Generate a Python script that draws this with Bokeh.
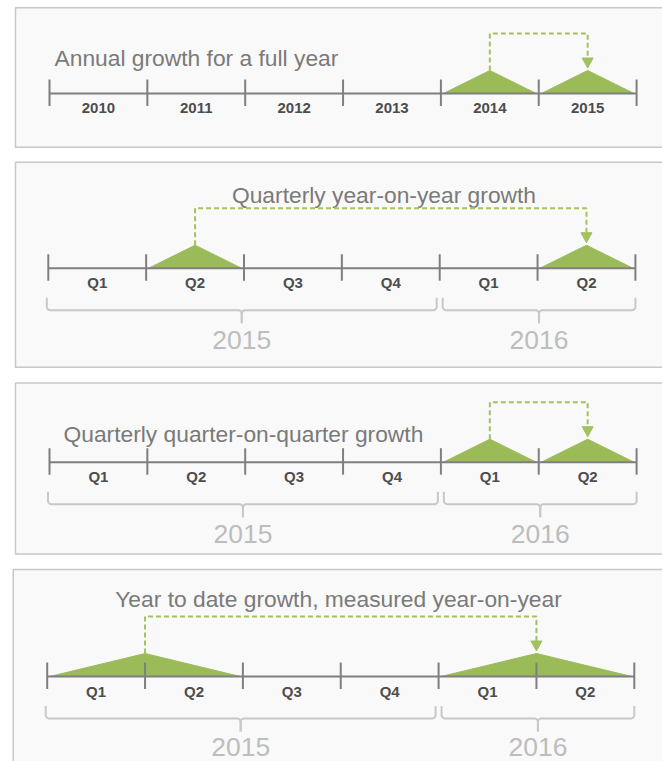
import numpy as np
from bokeh.plotting import figure
from bokeh.models import Range1d
from bokeh.embed import file_html
from bokeh.resources import INLINE
from bokeh.core.properties import value

# ---------------- data ----------------
titles = [
    "Annual growth for a full year",
    "Quarterly year-on-year growth",
    "Quarterly quarter-on-quarter growth",
    "Year to date growth, measured year-on-year",
]
annual_labels = ["2010", "2011", "2012", "2013", "2014", "2015"]
quarter_labels = ["Q1", "Q2", "Q3", "Q4", "Q1", "Q2"]
group_years = ["2015", "2016"]
group_start = [0, 4]          # first period index of each year
group_end = [4, 6]            # end period index of each year
# highlighted spans per panel: [base period span, compared period span]
hl_start = [[4, 5], [1, 5], [4, 5], [0, 4]]
hl_end = [[5, 6], [2, 6], [5, 6], [2, 6]]
panel_period_labels = [annual_labels, quarter_labels, quarter_labels, quarter_labels]
panel_has_groups = [False, True, True, True]

# ---------------- layout / style ----------------
W, H = 662, 761
STEP = 97.85
GREEN = "#9bbb59"
DASH_C = "#a2c260"
AXIS_C = "#7f7f7f"
BRACKET_C = "#c8c8c8"
FONT = "Liberation Sans"

panels = [
    dict(left=15, top=7.3, bottom=146.7, axis=93.0, x0=49.0, tx=54, ty=57, talign="left", yl=72),
    dict(left=15, top=161.7, bottom=366.7, axis=267.7, x0=47.8, tx=383.5, ty=194, talign="center", yl=72),
    dict(left=15, top=382.5, bottom=553.5, axis=461.7, x0=49.0, tx=63, ty=433.5, talign="left", yl=72),
    dict(left=12.7, top=569, bottom=790, axis=676.0, x0=46.7, tx=338, ty=598.5, talign="center", yl=70),
]

p = figure(width=W, height=H, output_backend="svg", toolbar_location=None,
           x_range=Range1d(0, W), y_range=Range1d(H, 0),
           x_axis_location=None, y_axis_location=None, min_border=0,
           background_fill_color="white", border_fill_color="white")
p.grid.visible = False
p.outline_line_color = None


def arc(cx, cy, r, a0, a1, n=8):
    t = np.linspace(a0, a1, n)
    return list(cx + r * np.cos(t)), list(cy + r * np.sin(t))


for k, pn in enumerate(panels):
    ax = pn["axis"]
    xs_t = [pn["x0"] + i * STEP for i in range(len(panel_period_labels[k]) + 1)]
    X = lambda u: pn["x0"] + u * STEP

    # panel box
    p.quad(left=pn["left"], right=W + 20, top=pn["top"], bottom=pn["bottom"],
           fill_color="#f9f9f9", line_color="#c8c8c8", line_width=1.5)

    # title
    p.text(x=[pn["tx"]], y=[pn["ty"]], text=[titles[k]], text_font=value(FONT),
           text_font_size="22.8px", text_color="#7a7a7a", text_align=pn["talign"],
           text_baseline="alphabetic")

    # highlighted triangles
    tri_x, tri_y, peaks = [], [], []
    for s, e in zip(hl_start[k], hl_end[k]):
        xl, xr = X(s) + 2.5, X(e) - 2.5
        xm = X((s + e) / 2)
        tri_x.append([xl, xm, xr])
        tri_y.append([ax, ax - 23, ax])
        peaks.append(xm)
    p.patches(tri_x, tri_y, fill_color=GREEN, line_color=GREEN, line_width=1)

    # dashed connector and arrow head
    top_y = ax - 60
    tip_y = ax - 25.5
    head_h = 10
    p.line([peaks[0], peaks[0], peaks[1], peaks[1]],
           [ax - 23, top_y, top_y, tip_y - head_h + 1],
           line_color=DASH_C, line_width=2, line_dash="5 3")
    p.patch([peaks[1] - 5.5, peaks[1] + 5.5, peaks[1]],
            [tip_y - head_h, tip_y - head_h, tip_y],
            fill_color=DASH_C, line_color=DASH_C, line_width=1)

    # timeline axis and ticks
    p.line([xs_t[0], xs_t[-1]], [ax, ax], line_color=AXIS_C, line_width=2)
    p.segment(x0=xs_t, y0=[ax - 14] * len(xs_t), x1=xs_t, y1=[ax + 12.5] * len(xs_t),
              line_color=AXIS_C, line_width=2)

    # period labels
    labs = panel_period_labels[k]
    p.text(x=[X(i + 0.5) for i in range(len(labs))], y=[ax + 14.5] * len(labs), text=labs,
           text_font=value(FONT), text_font_size="15px", text_font_style="bold",
           text_color="#4d4d4d", text_align="center", text_baseline="middle")

    # year brackets
    if panel_has_groups[k]:
        n_per = len(labs)
        yt, yh, ye, r = ax + 29.5, ax + 42, ax + 55, 3.5
        for g, s, e in zip(group_years, group_start, group_end):
            xl = X(s) + (3 if s > 0 else -1.5)
            xr = X(e) - (3 if e < n_per else 0)
            xm = (xl + xr) / 2
            ax1, ay1 = arc(xl + r, yh - r, r, np.pi, np.pi / 2)
            ax2, ay2 = arc(xm - r, yh + r, r, -np.pi / 2, 0)
            lx = [xl] + ax1 + ax2 + [xm]
            ly = [yt] + ay1 + ay2 + [ye]
            rx = [2 * xm - v for v in lx]
            p.multi_line([lx, rx], [ly, ly], line_color=BRACKET_C, line_width=2)
            p.text(x=[xm], y=[ax + pn["yl"]], text=[g], text_font=value(FONT),
                   text_font_size="26.5px", text_color="#bdbdbd", text_align="center",
                   text_baseline="middle")

open("out.html", "w").write(file_html(p, INLINE))
